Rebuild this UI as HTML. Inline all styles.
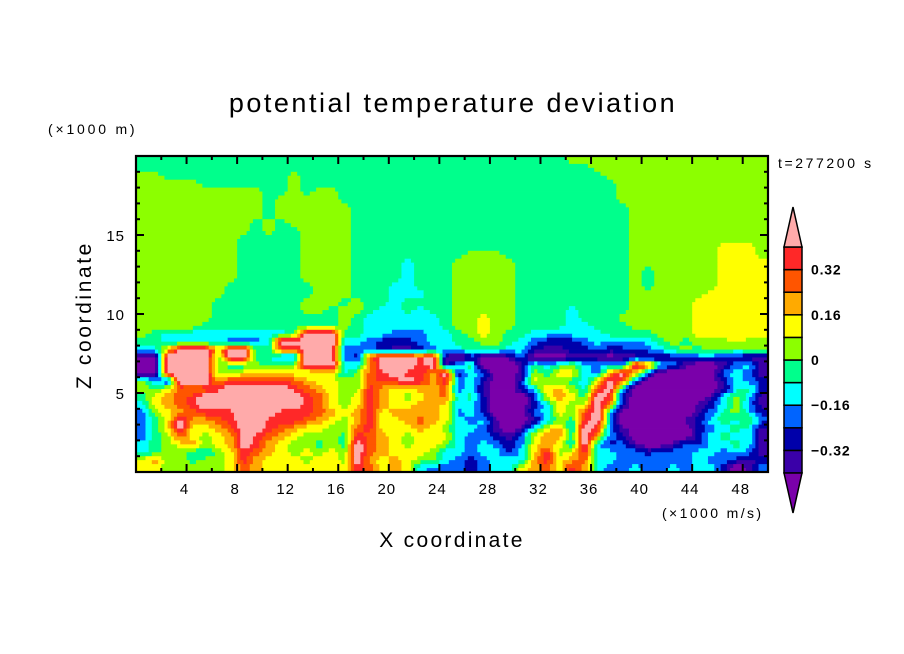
<!DOCTYPE html>
<html><head><meta charset="utf-8"><title>potential temperature deviation</title>
<style>
html,body{margin:0;padding:0;background:#fff;}
svg{display:block;}
text{font-family:"Liberation Sans",sans-serif;fill:#000;}
</style></head>
<body>
<svg id="chart" width="904" height="654" viewBox="0 0 904 654" xmlns="http://www.w3.org/2000/svg">
  <rect x="0" y="0" width="904" height="654" fill="#fff"/>
  <text x="453" y="112" text-anchor="middle" font-size="27" letter-spacing="2.5">potential temperature deviation</text>
  <text x="48" y="134" font-size="14" letter-spacing="2.8">(×1000 m)</text>
  <text x="778" y="168" font-size="14" letter-spacing="2.6">t=277200 s</text>
  <text x="662" y="518" font-size="14" letter-spacing="2.4">(×1000 m/s)</text>
  <text x="452" y="547" text-anchor="middle" font-size="21" letter-spacing="2.3">X coordinate</text>
  <text transform="translate(91,315) rotate(-90)" text-anchor="middle" font-size="21" letter-spacing="2.6">Z coordinate</text>
  <g id="field"></g>
  <g id="axes"></g>
  <g id="colorbar"></g>
</svg>
<script>
// ---- data ----
const xTicks = [4, 8, 12, 16, 20, 24, 28, 32, 36, 40, 44, 48];
const yTicks = [5, 10, 15];
const levelBounds = [-0.4, -0.32, -0.24, -0.16, -0.08, 0, 0.08, 0.16, 0.24, 0.32, 0.4];
const colorbarLabels = ["0.32", "0.16", "0", "\u22120.16", "\u22120.32"];
const colorbarLabelValues = [0.32, 0.16, 0, -0.16, -0.32];
const levelColors = ["#7a00aa", "#3a00a8", "#0000aa", "#0064ff", "#00ffff", "#00ff8c", "#8cff00", "#ffff00", "#ffaa00", "#ff5500", "#ff2828", "#ffaaaa"];
const codeValues = {p:-0.48, i:-0.36, d:-0.28, b:-0.2, c:-0.12, g:-0.04, l:0.04, y:0.12, o:0.2, r:0.28, R:0.36, k:0.48};
// field rows: top (z=20 km) to bottom (z=0), 0.5 km per row, 50 columns of 1 km
const fieldRows = [
"gggggggggggggggggggggggggggggggggg" + "llllllllllllllll",
"gggggggggggggggggggggggggggggggggggg" + "llllllllllllll",
"llggggggggggl" + "gggggggggggggggggggggggg" + "lllllllllllll",
"lllllgggggggl" + "ggggggggggggggggggggggggg" + "llllllllllll",
"llllllllllgglgll" + "gggggggggggggggggggggg" + "llllllllllll",
"llllllllllglllll" + "gggggggggggggggggggggg" + "llllllllllll",
"llllllllllgllllll" + "gggggggggggggggggggggg" + "lllllllllll",
"llllllllllgllllll" + "gggggggggggggggggggggg" + "lllllllllll",
"lllllllllglglllll" + "gggggggggggggggggggggg" + "lllllllllll",
"lllllllllglggllll" + "gggggggggggggggggggggg" + "lllllllllll",
"llllllllggggglllll".slice(0,17) + "gggggggggggggggggggggg" + "lllllllllll",
"llllllllggggglll".concat("l") + "gggggggggggggggggggggg" + "lllllll" + "yyy" + "l",
"llllllllggggglllll".slice(0,17) + "ggggggggg" + "lll" + "gggggggggg" + "lllllll" + "yyy" + "l",
"llllllllggggglllll".slice(0,17) + "ggggcggglllllggggggggg" + "lllllll" + "yyyy",
"llllllllggggglllll".slice(0,17) + "ggggcggglllllggggggggg" + "lglllll" + "yyyy",
"llllllllggggglllll".slice(0,17) + "ggggcggglllllggggggggg" + "lglllll" + "yyyy",
"lllllllggggggglll" + "gggccggglllllggggggggg" + "lglllll" + "yyyy",
"lllllllggggggglll" + "gggcccgglllllggggggggg" + "llllll" + "yyyyy",
"llllllggggggglllg" + "lggcgggg" + "lllll" + "gggg" + "ggggg" + "lllll" + "yyyyyy",
"llllllggggggglllgl".slice(0,15) + "gl" + "lgccgcgg" + "lllll" + "gggg" + "cgggg" + "lllll" + "yyyyyy",
"llllllggggggggggl" + "gccccccg" + "llyll" + "gggg" + "cgggl" + "lllll" + "yyyyyy",
"lllllgggggggggggl" + "gccccccg" + "llyll" + "gggg" + "ccggg" + "lllll" + "yyyyyy",
"lgccccccccccggkkkg".slice(0,12) + "gkkkg" + "gccbbbccglylggccb" + "cccgggglll" + "yyyyyy",
"ggcccccbbbckkkkkc" + "cbdddbccggllgcbdd" + "dbcbcbcglglllyll",
"ccykkkykkggrrkkkb" + "bbdiidbccgggccdii" + "ddbddbbcglgllgll",
"ppkkkklkkggbbkkkb" + "drkkkRkipdppibppp" + "iiipiiiiddbbddii",
"ppkkkklgglgglkkkc" + "cokkkRkicgpppigcg" + "lcbcbkrcbippibci",
"ppkkkkllyyyyylyyc" + "lrRkRRokdcbppilgy" + "ycbokybpppppbcbi",
"lcdkkkoRRRRRroyyl" + "lrRRkRoRbcdppdyll" + "gcykrbppppppdcbd",
"lgyrorRkkkkkRroyl" + "lRoyyoorbcippdcyo" + "lcrkcpppppppicgd",
"gyorRkkkkkkkkRryl" + "yRoylyorcgdpppdyo" + "ygkRdppppppiclci",
"cyorRkkkkkkkkRryl" + "yRoyyooyccdpppdcy" + "lykodpppppidclbi",
"blyorRRRkkkRRRroy" + "oRyooooybcdpppbcy" + "lrkcppppppibglcd",
"bgykoorRkkRRRroyl" + "oRyyoroycbcippicl" + "gRkcpppppidcgclb",
"bgykyyorkkRroyyll" + "rRyyyoylccbipicyo" + "ckRbipppppdbcgci",
"bglrylyokRroylllg" + "Rroylyyycbbdibyoo" + "gkobdpppppdcgcci",
"cglyolyokRoyllglg" + "kroylyylcbcbdbyoy" + "ckcdbippibdccgci",
"cgllgclyRroylylyl" + "kroyyylccbccdcyRl" + "yRccbbdbbbccbcbi",
"yollgllyRoyyylyyl" + "koyoyllcbdbcccoRy" + "orccbbbbbbcbbdid",
"yylllllyroyyyyyyy" + "Rryoycbbbdbccyory" + "Rocbbcbbcbccdpib"
];
</script>
<script>
const NS = "http://www.w3.org/2000/svg";
const X0 = 136, X1 = 768, Y0 = 156, Y1 = 472;
const XMAX = 50, ZMAX = 20;
function xScale(v){ return X0 + (v / XMAX) * (X1 - X0); }
function zScale(v){ return Y1 - (v / ZMAX) * (Y1 - Y0); }
function levelOf(v){ let i = 0; while (i < levelBounds.length && v >= levelBounds[i]) i++; return i; }

const nCols = 50, nRows = fieldRows.length;
const grid = fieldRows.map(function(s){
  const row = [];
  for (let c = 0; c < nCols; c++) { const ch = s[c] || s[s.length - 1]; row.push(codeValues[ch] !== undefined ? codeValues[ch] : 0); }
  return row;
});
const dxKm = XMAX / nCols, dzKm = ZMAX / nRows;
function sample(xk, zk){
  let gx = xk / dxKm - 0.5, gy = (ZMAX - zk) / dzKm - 0.5;
  gx = Math.max(0, Math.min(nCols - 1, gx)); gy = Math.max(0, Math.min(nRows - 1, gy));
  const x0 = Math.floor(gx), y0 = Math.floor(gy);
  const x1 = Math.min(nCols - 1, x0 + 1), y1 = Math.min(nRows - 1, y0 + 1);
  const fx = gx - x0, fy = gy - y0;
  const a = grid[y0][x0] * (1 - fx) + grid[y0][x1] * fx;
  const b = grid[y1][x0] * (1 - fx) + grid[y1][x1] * fx;
  return a * (1 - fy) + b * fy;
}

const field = document.getElementById("field");
const SX = 4, SY = 2;
const subW = dxKm / SX, subH = dzKm / SY;
for (let j = 0; j < nRows * SY; j++) {
  const zTop = ZMAX - j * subH, zc = zTop - subH / 2;
  let runStart = 0, runLev = levelOf(sample(subW / 2, zc));
  const total = nCols * SX;
  for (let i = 1; i <= total; i++) {
    const lev = i < total ? levelOf(sample((i + 0.5) * subW, zc)) : -1;
    if (lev !== runLev) {
      const r = document.createElementNS(NS, "rect");
      const xa = xScale(runStart * subW), xb = xScale(i * subW);
      const ya = zScale(zTop), yb = zScale(zTop - subH);
      r.setAttribute("x", xa.toFixed(2));
      r.setAttribute("y", ya.toFixed(2));
      r.setAttribute("width", (xb - xa + 0.4).toFixed(2));
      r.setAttribute("height", (yb - ya + 0.4).toFixed(2));
      r.setAttribute("fill", levelColors[runLev]);
      
      
      field.appendChild(r);
      runStart = i; runLev = lev;
    }
  }
}

const axes = document.getElementById("axes");
function line(x1, y1, x2, y2, w){
  const l = document.createElementNS(NS, "line");
  l.setAttribute("x1", x1); l.setAttribute("y1", y1); l.setAttribute("x2", x2); l.setAttribute("y2", y2);
  l.setAttribute("stroke", "#000"); l.setAttribute("stroke-width", w);
  return l;
}
const frame = document.createElementNS(NS, "rect");
frame.setAttribute("x", X0); frame.setAttribute("y", Y0);
frame.setAttribute("width", X1 - X0); frame.setAttribute("height", Y1 - Y0);
frame.setAttribute("fill", "none"); frame.setAttribute("stroke", "#000"); frame.setAttribute("stroke-width", 2.2);


axes.appendChild(frame);
for (let v = 2; v < XMAX; v += 2) {
  const major = v % 4 === 0, len = major ? 8 : 4, x = xScale(v);
  const t1 = line(x, Y1, x, Y1 - len, 2);
  
  
  axes.appendChild(t1);
  const t2 = line(x, Y0, x, Y0 + len, 2);
  
  
  axes.appendChild(t2);
}
for (let v = 1; v < ZMAX; v += 1) {
  const major = v % 5 === 0, len = major ? 8 : 4, y = zScale(v);
  const t1 = line(X0, y, X0 + len, y, 2);
  
  
  axes.appendChild(t1);
  const t2 = line(X1, y, X1 - len, y, 2);
  
  
  axes.appendChild(t2);
}
xTicks.forEach(function(v){
  const t = document.createElementNS(NS, "text");
  t.setAttribute("x", xScale(v) - 2); t.setAttribute("y", 494);
  t.setAttribute("text-anchor", "middle"); t.setAttribute("font-size", "15");
  t.setAttribute("letter-spacing", "1");
  t.textContent = String(v);
  
  
  axes.appendChild(t);
});
yTicks.forEach(function(v){
  const t = document.createElementNS(NS, "text");
  t.setAttribute("x", 125); t.setAttribute("y", zScale(v) + 6);
  t.setAttribute("text-anchor", "end"); t.setAttribute("font-size", "15");
  t.setAttribute("letter-spacing", "1");
  t.textContent = String(v);
  
  
  axes.appendChild(t);
});

const cb = document.getElementById("colorbar");
const CBX0 = 784, CBX1 = 802, CBY0 = 247, CBY1 = 473, TIP = 40;
const nBox = levelBounds.length - 1;
function cbY(v){ return CBY0 + (levelBounds[levelBounds.length - 1] - v) / (levelBounds[levelBounds.length - 1] - levelBounds[0]) * (CBY1 - CBY0); }
for (let k = 0; k < nBox; k++) {
  const lo = levelBounds[k], hi = levelBounds[k + 1];
  const r = document.createElementNS(NS, "rect");
  r.setAttribute("x", CBX0); r.setAttribute("y", cbY(hi));
  r.setAttribute("width", CBX1 - CBX0); r.setAttribute("height", cbY(lo) - cbY(hi));
  r.setAttribute("fill", levelColors[k + 1]); r.setAttribute("stroke", "#000"); r.setAttribute("stroke-width", 1.5);
  
  
  cb.appendChild(r);
}
const topTri = document.createElementNS(NS, "polygon");
topTri.setAttribute("points", CBX0 + "," + CBY0 + " " + CBX1 + "," + CBY0 + " " + ((CBX0 + CBX1) / 2) + "," + (CBY0 - TIP));
topTri.setAttribute("fill", levelColors[levelColors.length - 1]); topTri.setAttribute("stroke", "#000"); topTri.setAttribute("stroke-width", 1.5);


cb.appendChild(topTri);
const botTri = document.createElementNS(NS, "polygon");
botTri.setAttribute("points", CBX0 + "," + CBY1 + " " + CBX1 + "," + CBY1 + " " + ((CBX0 + CBX1) / 2) + "," + (CBY1 + TIP));
botTri.setAttribute("fill", levelColors[0]); botTri.setAttribute("stroke", "#000"); botTri.setAttribute("stroke-width", 1.5);


cb.appendChild(botTri);
colorbarLabels.forEach(function(lbl, k){
  const t = document.createElementNS(NS, "text");
  t.setAttribute("x", 811); t.setAttribute("y", cbY(colorbarLabelValues[k]) + 5);
  t.setAttribute("font-size", "14"); t.setAttribute("font-weight", "bold");
  t.setAttribute("letter-spacing", "0.8");
  t.textContent = lbl;
  
  
  cb.appendChild(t);
});
</script>
</body></html>
